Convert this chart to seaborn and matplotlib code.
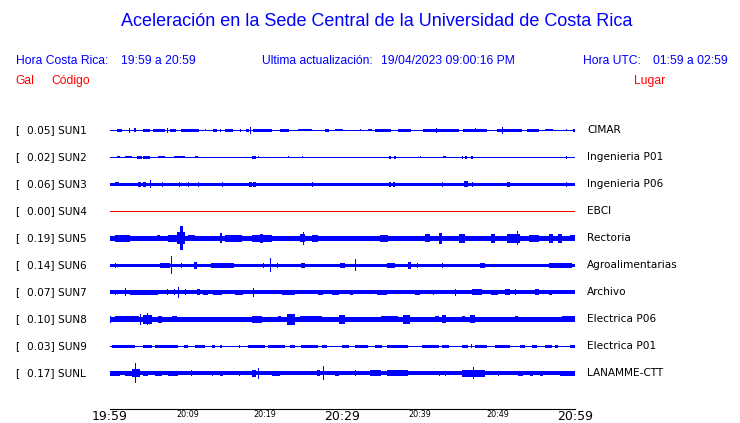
import matplotlib
matplotlib.use("Agg")
import matplotlib.pyplot as plt
import seaborn as sns
import pandas as pd

# Estaciones (de arriba hacia abajo)
codes = ["SUN1", "SUN2", "SUN3", "SUN4", "SUN5", "SUN6", "SUN7", "SUN8", "SUN9", "SUNL"]
peaks = [0.05, 0.02, 0.06, 0.00, 0.19, 0.14, 0.07, 0.10, 0.03, 0.17]
places = ["CIMAR", "Ingenieria P01", "Ingenieria P06", "EBCI", "Rectoria",
          "Agroalimentarias", "Archivo", "Electrica P06", "Electrica P01",
          "LANAMME-CTT"]
# medio grosor de la traza en calma (pixeles)
base_half = [0.6, 0.6, 1.7, 0.5, 2.7, 1.8, 1.9, 2.5, 0.6, 1.9]
tick_labels = ["19:59", "", "20:09", "", "20:19", "", "20:29", "", "20:39",
               "", "20:49", "", "20:59"]
big_ticks = ["19:59", "20:29", "20:59"]

# Rafagas: (minuto inicio, minuto fin, media amplitud px)
sun1 = [(0.9, 1.5, 1.3), (2.5, 2.6, 2.7), (3.1, 3.4, 2.0), (4.3, 5.2, 1.5),
        (5.6, 7.1, 1.5), (7.4, 7.5, 2.7), (7.7, 8.5, 1.3), (9.2, 11.5, 1.5),
        (12.3, 12.4, 1.0), (13.3, 13.8, 1.3), (14.2, 14.3, 1.2),
        (14.8, 15.9, 1.2), (16.8, 16.9, 1.3), (17.6, 17.9, 1.3),
        (18.1, 18.2, 3.3), (18.5, 20.9, 1.5), (21.9, 23.1, 1.3),
        (24.3, 26.0, 1.0), (27.7, 28.2, 1.2), (29.0, 30.1, 1.0),
        (32.3, 32.4, 1.0), (33.3, 33.8, 1.0), (34.2, 36.3, 1.3),
        (37.2, 38.9, 1.2), (40.4, 45.0, 1.5), (42.1, 42.2, 2.7),
        (45.6, 48.6, 1.3), (47.1, 47.2, 2.0), (49.9, 53.1, 1.3),
        (50.6, 50.7, 3.3), (53.8, 55.3, 1.2), (56.1, 57.2, 1.0),
        (58.9, 59.0, 1.0), (59.8, 60.0, 1.3)]
sun2 = [(0.9, 1.3, 1.0), (1.9, 2.8, 1.0), (3.5, 4.1, 1.7), (4.2, 5.2, 1.7),
        (6.2, 7.1, 1.0), (8.2, 9.7, 1.0), (11.0, 11.4, 1.0),
        (18.3, 18.8, 1.7), (19.1, 19.2, 1.0), (23.0, 23.1, 1.0),
        (24.8, 24.9, 1.0), (36.0, 36.3, 1.7), (36.6, 36.9, 1.7),
        (37.4, 37.5, 0.8), (40.0, 40.1, 1.0), (43.0, 43.4, 1.0),
        (45.4, 45.6, 1.7), (45.8, 46.1, 1.7), (46.6, 46.9, 1.7),
        (58.9, 59.0, 1.7)]
sun3 = [(0.6, 1.1, 2.0), (3.6, 4.0, 2.3), (4.3, 4.6, 2.3), (5.2, 5.3, 4.0),
        (6.7, 6.8, 2.2), (8.9, 9.0, 2.3), (10.0, 10.1, 2.3),
        (11.3, 11.4, 2.3), (14.4, 14.5, 2.7), (17.9, 18.3, 2.7),
        (18.5, 18.9, 2.7), (26.1, 26.2, 2.7), (36.0, 36.3, 2.5),
        (36.5, 36.8, 2.5), (42.9, 43.0, 2.7), (45.7, 46.2, 3.0),
        (46.7, 46.8, 2.3), (51.2, 51.6, 2.7), (58.8, 58.9, 2.7)]
sun4 = []
sun5 = [(0.6, 2.6, 3.3), (2.8, 3.9, 2.5), (6.0, 6.5, 3.0), (7.5, 8.6, 3.7),
        (8.6, 9.7, 6.0), (9.0, 9.4, 12.0), (10.1, 11.0, 3.0),
        (11.8, 12.3, 2.7), (13.1, 14.0, 2.8), (14.2, 14.4, 5.0),
        (14.8, 17.0, 3.3), (18.3, 20.9, 3.5), (19.4, 19.8, 4.5),
        (21.7, 23.4, 2.8), (24.5, 25.2, 4.0), (24.9, 25.0, 6.5),
        (26.0, 26.9, 3.3), (29.5, 32.0, 2.8), (33.3, 34.6, 2.8),
        (34.8, 35.9, 3.5), (36.3, 38.0, 2.8), (40.6, 41.3, 4.0),
        (42.4, 42.8, 5.5), (43.9, 44.3, 2.8), (45.0, 45.8, 4.5),
        (49.2, 49.7, 4.5), (51.2, 52.9, 4.5), (52.5, 52.6, 7.0),
        (54.0, 55.3, 3.5), (56.6, 57.2, 4.5), (57.8, 58.3, 4.5),
        (59.4, 60.0, 3.0)]
sun6 = [(0.6, 0.7, 2.5), (6.5, 7.7, 2.7), (7.9, 8.0, 9.0), (9.2, 9.3, 2.5),
        (10.8, 11.2, 3.3), (13.0, 16.0, 2.3), (19.7, 19.8, 2.7),
        (20.6, 20.7, 7.0), (21.5, 21.6, 2.5), (24.7, 25.2, 2.5),
        (29.7, 30.3, 2.5), (31.6, 31.8, 6.0), (35.7, 36.8, 2.3),
        (38.5, 38.8, 3.3), (39.6, 39.7, 2.3), (42.9, 43.0, 2.3),
        (47.7, 48.4, 2.5), (56.6, 59.6, 2.5)]
sun7 = [(0.6, 0.7, 2.5), (1.9, 2.0, 4.0), (2.6, 6.2, 2.5), (7.3, 7.4, 3.0),
        (8.2, 8.3, 3.0), (8.8, 8.9, 5.5), (9.7, 9.8, 3.0),
        (11.2, 11.6, 3.0), (12.0, 12.7, 2.5), (13.3, 14.4, 2.5),
        (16.1, 17.2, 2.5), (18.5, 18.6, 4.5), (22.2, 23.9, 2.5),
        (26.9, 27.5, 2.8), (28.6, 29.5, 2.5), (31.0, 31.4, 2.8),
        (34.4, 35.7, 2.5), (39.4, 40.0, 2.5), (41.7, 41.8, 2.5),
        (44.5, 44.6, 3.5), (46.7, 48.0, 3.0), (49.2, 50.1, 2.5),
        (51.0, 51.6, 3.0), (52.3, 52.4, 3.0), (54.8, 55.3, 3.0),
        (56.6, 57.0, 2.5)]
sun8 = [(0.0, 0.1, 3.3), (0.6, 3.7, 3.0), (3.9, 4.0, 5.5), (4.3, 5.4, 4.5),
        (4.8, 4.9, 6.0), (6.2, 6.7, 3.5), (8.0, 8.6, 3.0), (10.1, 10.6, 2.8),
        (18.3, 19.6, 3.5), (21.7, 22.1, 3.0), (22.8, 23.9, 5.5),
        (24.5, 27.3, 3.0), (29.5, 30.3, 4.5), (35.0, 37.2, 3.0),
        (37.8, 38.7, 4.5), (41.9, 42.4, 3.0), (42.8, 43.4, 4.0),
        (45.4, 45.8, 3.0), (46.5, 47.1, 4.0), (52.3, 52.7, 3.0),
        (58.3, 60.0, 3.0)]
sun9 = [(0.2, 3.2, 1.3), (4.3, 5.4, 1.3), (5.8, 8.8, 1.3), (9.5, 10.1, 1.3),
        (11.0, 12.3, 1.3), (13.1, 13.5, 1.3), (14.2, 14.4, 1.3),
        (16.6, 16.7, 1.3), (17.8, 20.0, 1.3), (20.4, 22.6, 1.3),
        (23.2, 23.9, 1.3), (24.7, 26.9, 1.3), (27.3, 28.0, 1.3),
        (29.9, 30.8, 1.3), (31.6, 33.3, 1.3), (34.2, 35.1, 1.3),
        (35.7, 38.5, 1.3), (40.2, 42.4, 1.3), (42.8, 43.7, 1.3),
        (45.4, 46.2, 1.3), (46.6, 46.7, 2.0), (47.1, 48.6, 1.3),
        (49.7, 51.6, 1.3), (52.9, 53.5, 1.3), (54.4, 55.1, 1.3),
        (56.1, 57.0, 1.3), (57.4, 57.8, 1.3), (59.4, 60.0, 1.3)]
sunl = [(0.0, 1.3, 2.5), (1.9, 3.0, 2.5), (2.8, 3.9, 4.0), (3.2, 3.3, 10.0),
        (4.3, 4.9, 2.5), (5.8, 6.7, 2.5), (7.5, 8.8, 2.5), (10.5, 10.6, 3.0),
        (13.1, 13.2, 2.5), (14.2, 14.6, 2.5), (16.6, 16.7, 2.5),
        (18.3, 18.9, 3.5), (19.1, 19.2, 5.5), (20.9, 21.9, 2.5),
        (23.7, 23.8, 2.0), (26.7, 27.1, 3.0), (27.5, 27.6, 7.0),
        (29.0, 29.5, 2.5), (31.6, 31.7, 3.0), (33.5, 35.0, 3.0),
        (35.7, 38.5, 3.0), (42.4, 42.5, 2.5), (43.2, 43.3, 2.5),
        (45.4, 48.4, 3.5), (46.9, 47.0, 6.0), (50.1, 50.2, 2.5),
        (52.7, 53.3, 2.5), (54.2, 54.6, 2.5), (55.5, 55.9, 2.5),
        (58.1, 60.0, 2.5)]
bursts = [sun1, sun2, sun3, sun4, sun5, sun6, sun7, sun8, sun9, sunl]

W, H = 740, 423
sns.set_style("white")
plt.rcParams["font.family"] = ["DejaVu Sans"]
plt.rcParams["text.color"] = "black"

fig = plt.figure(figsize=(W / 100, H / 100), dpi=100)
ax = fig.add_axes([110 / W, (H - 409) / H, 465 / W, 294 / H])
ax.set_xlim(0, 60)
ax.set_ylim(409, 115)  # eje vertical en pixeles

rows = [130.3 + 27 * i for i in range(len(codes))]

for i, code in enumerate(codes):
    y = rows[i]
    color = "red" if peaks[i] == 0 else "blue"
    h = base_half[i]
    ax.fill_between([0, 60], y - h, y + h, color=color, lw=0)
    ev = pd.DataFrame(bursts[i], columns=["t0", "t1", "amp"])
    if len(ev):
        ax.bar(ev.t0, 2 * ev.amp, width=(ev.t1 - ev.t0).clip(lower=0.13),
               bottom=y - ev.amp, align="edge", color=color, lw=0)
    fig.text(15 / W, 1 - y / H, "[", fontsize=7.6, va="center")
    fig.text(27 / W, 1 - y / H, f"{peaks[i]:.2f}] {code}", fontsize=7.6,
             va="center")
    fig.text(587 / W, 1 - y / H, places[i], fontsize=7.6, va="center")

sns.despine(ax=ax, left=True, top=True, right=True)
ax.spines["bottom"].set_linewidth(0.8)
ax.spines["bottom"].set_color("black")
ax.set_yticks([])
ax.set_xticks(range(0, 61, 5))
ax.set_xticklabels(tick_labels)
ax.tick_params(axis="x", direction="in", length=6.5, width=0.8, pad=1.0,
               colors="black")
for lab in ax.get_xticklabels():
    if lab.get_text() in big_ticks:
        lab.set_fontsize(9)
    else:
        lab.set_fontsize(5.8)

hdr = ["Liberation Sans", "DejaVu Sans"]
fig.text(377 / W, 1 - 22 / H,
         "Aceleración en la Sede Central de la Universidad de Costa Rica",
         ha="center", va="center", fontsize=13, color="blue", family=hdr)
row2 = [(16, "Hora Costa Rica:"), (121, "19:59 a 20:59"),
        (262, "Ultima actualización:"), (381, "19/04/2023 09:00:16 PM"),
        (583, "Hora UTC:"), (653, "01:59 a 02:59")]
for x, s in row2:
    fig.text(x / W, 1 - 61 / H, s, va="center", fontsize=8.7, color="blue",
             family=hdr)
for x, s in [(15, "Gal"), (51, "Código"), (634, "Lugar")]:
    fig.text(x / W, 1 - 81 / H, s, va="center", fontsize=8.7, color="red",
             family=hdr)

fig.savefig("out.png", dpi=100)
